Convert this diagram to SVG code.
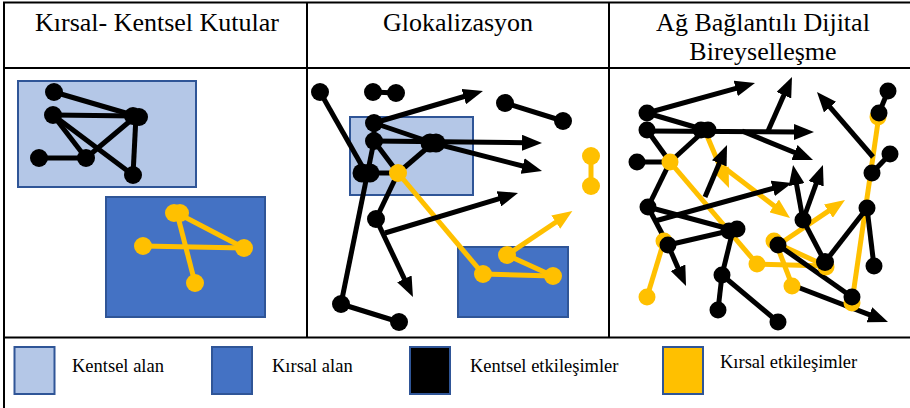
<svg xmlns="http://www.w3.org/2000/svg" width="910" height="408" viewBox="0 0 910 408">
<style>
.grid{stroke:#000;stroke-width:2;fill:none}
.hdr{font-size:26px;fill:#000;text-anchor:middle}
.lg{font-size:18.5px;fill:#000}
.urban{fill:#B4C7E7;stroke:#2F5597;stroke-width:2}
.rural{fill:#4472C4;stroke:#2F5597;stroke-width:2}
.eb{stroke:#000;stroke-width:5;fill:none}
.ey{stroke:#FFC000;stroke-width:5;fill:none}
.ab{stroke:#000;stroke-width:5;fill:none;marker-end:url(#hb)}
.ay{stroke:#FFC000;stroke-width:5;fill:none;marker-end:url(#hy)}
.nb{fill:#000}
.ny{fill:#FFC000}
</style>
<defs>
<marker id="hb" viewBox="0 0 20 16" refX="4" refY="8" markerWidth="20" markerHeight="16" markerUnits="userSpaceOnUse" orient="auto"><path d="M0,0 L20,8 L0,16 z" fill="#000"/></marker>
<marker id="hy" viewBox="0 0 20 16" refX="4" refY="8" markerWidth="20" markerHeight="16" markerUnits="userSpaceOnUse" orient="auto"><path d="M0,0 L20,8 L0,16 z" fill="#FFC000"/></marker>
</defs>
<rect width="910" height="408" fill="#fff"/>
<g id="table">
<line class="grid" x1="3" y1="2.5" x2="910" y2="2.5"/>
<line class="grid" x1="4" y1="2" x2="4" y2="408"/>
<line class="grid" x1="3" y1="68" x2="910" y2="68"/>
<line class="grid" x1="3" y1="337.5" x2="910" y2="337.5"/>
<line class="grid" x1="307" y1="2" x2="307" y2="338"/>
<line class="grid" x1="609" y1="2" x2="609" y2="338"/>
</g>
<g id="headers" font-family="'Liberation Serif', 'DejaVu Serif', serif">
<text class="hdr" x="157" y="31">Kırsal- Kentsel Kutular</text>
<text class="hdr" x="458" y="31">Glokalizasyon</text>
<text class="hdr" x="763" y="31">Ağ Bağlantılı Dijital</text>
<text class="hdr" x="763" y="60">Bireyselleşme</text>
</g>
<g id="areas">
<rect id="p1-urban" class="urban" x="18" y="81" width="178" height="106"/>
<rect id="p1-rural" class="rural" x="106" y="197" width="159" height="120"/>
<rect id="p2-urban" class="urban" x="350" y="117" width="123" height="78"/>
<rect id="p2-rural" class="rural" x="458" y="247" width="110" height="70"/>
</g>
<g id="connectors">
<line class="eb" x1="54" y1="92" x2="136" y2="116"/>
<line class="eb" x1="53" y1="115" x2="136" y2="116"/>
<line class="eb" x1="53" y1="115" x2="86" y2="158"/>
<line class="eb" x1="53" y1="115" x2="133" y2="175"/>
<line class="eb" x1="136" y1="116" x2="86" y2="158"/>
<line class="eb" x1="136" y1="116" x2="133" y2="175"/>
<line class="eb" x1="39" y1="158" x2="86" y2="158"/>
<line class="ey" x1="177" y1="213" x2="244" y2="248"/>
<line class="ey" x1="143" y1="246" x2="244" y2="248"/>
<line class="ey" x1="177" y1="213" x2="195" y2="283"/>
<line class="ey" x1="398" y1="173" x2="483" y2="274"/>
<line class="ey" x1="483" y1="274" x2="553" y2="276"/>
<line class="ey" x1="507" y1="255" x2="553" y2="276"/>
<line class="ey" x1="591" y1="156" x2="591" y2="186"/>
<line class="ay" x1="507" y1="255" x2="559.1" y2="220"/>
<line class="eb" x1="320" y1="92" x2="366" y2="173"/>
<line class="eb" x1="373" y1="92" x2="396" y2="93"/>
<line class="eb" x1="374" y1="123" x2="374" y2="141"/>
<line class="eb" x1="374" y1="123" x2="433" y2="143"/>
<line class="eb" x1="374" y1="141" x2="341" y2="304"/>
<line class="eb" x1="374" y1="141" x2="398" y2="173"/>
<line class="eb" x1="433" y1="143" x2="398" y2="173"/>
<line class="eb" x1="366" y1="173" x2="398" y2="173"/>
<line class="eb" x1="398" y1="173" x2="376" y2="219"/>
<line class="eb" x1="341" y1="304" x2="399" y2="322"/>
<line class="eb" x1="505" y1="103" x2="563" y2="121"/>
<line class="ab" x1="374" y1="123" x2="467.6" y2="95.5"/>
<line class="ab" x1="374" y1="141" x2="526" y2="142.8"/>
<line class="ab" x1="433" y1="143" x2="526.5" y2="167"/>
<line class="ab" x1="385" y1="233" x2="502.7" y2="197.6"/>
<line class="ab" x1="376" y1="219" x2="406.1" y2="282.5"/>
<line class="ey" x1="670" y1="162" x2="757" y2="264"/>
<line class="ey" x1="664" y1="241" x2="647" y2="297"/>
<line class="ey" x1="757" y1="264" x2="826" y2="266"/>
<line class="ey" x1="776" y1="243" x2="792" y2="285"/>
<line class="ey" x1="776" y1="243" x2="826" y2="266"/>
<line class="ey" x1="879" y1="115" x2="852" y2="302"/>
<line class="ay" x1="705" y1="131" x2="722.8" y2="173.2"/>
<line class="ay" x1="722" y1="166" x2="777.3" y2="208.3"/>
<line class="ay" x1="778" y1="245" x2="831.7" y2="208.9"/>
<line class="eb" x1="647" y1="113" x2="705" y2="130"/>
<line class="eb" x1="647" y1="130" x2="670" y2="162"/>
<line class="eb" x1="705" y1="130" x2="670" y2="162"/>
<line class="eb" x1="637" y1="162" x2="670" y2="162"/>
<line class="eb" x1="670" y1="162" x2="648" y2="207"/>
<line class="eb" x1="648" y1="207" x2="733" y2="230"/>
<line class="eb" x1="648" y1="207" x2="668" y2="245"/>
<line class="eb" x1="668" y1="245" x2="733" y2="230"/>
<line class="eb" x1="733" y1="230" x2="722" y2="275"/>
<line class="eb" x1="722" y1="275" x2="718" y2="310"/>
<line class="eb" x1="722" y1="275" x2="778" y2="322"/>
<line class="eb" x1="803" y1="220" x2="825" y2="262"/>
<line class="eb" x1="778" y1="245" x2="852" y2="297"/>
<line class="eb" x1="825" y1="262" x2="867" y2="208"/>
<line class="eb" x1="867" y1="208" x2="874" y2="266"/>
<line class="eb" x1="872" y1="173" x2="890" y2="154"/>
<line class="eb" x1="879" y1="113" x2="888" y2="91"/>
<line class="ab" x1="647" y1="113" x2="739.6" y2="87.3"/>
<line class="ab" x1="647" y1="131" x2="798" y2="132"/>
<line class="ab" x1="742" y1="131" x2="798.2" y2="154"/>
<line class="ab" x1="768" y1="131" x2="785.5" y2="91.6"/>
<line class="ab" x1="705" y1="197" x2="720.8" y2="159.7"/>
<line class="ab" x1="655" y1="221" x2="776.6" y2="187.3"/>
<line class="ab" x1="668" y1="245" x2="679.6" y2="271.4"/>
<line class="ab" x1="803" y1="220" x2="795.9" y2="180.7"/>
<line class="ab" x1="803" y1="220" x2="817.5" y2="180"/>
<line class="ab" x1="873" y1="157" x2="827.4" y2="104.1"/>
<line class="ab" x1="792" y1="285" x2="873.1" y2="316.2"/>
</g>
<g id="panel1-nodes">
<g id="p1-a"><circle class="nb" cx="54" cy="92" r="9"/></g>
<g id="p1-b"><circle class="nb" cx="53" cy="115" r="9"/></g>
<g id="p1-c"><circle class="nb" cx="133" cy="116" r="9"/><circle class="nb" cx="139" cy="117" r="9"/></g>
<g id="p1-d"><circle class="nb" cx="39" cy="158" r="9"/></g>
<g id="p1-e"><circle class="nb" cx="86" cy="158" r="9"/></g>
<g id="p1-f"><circle class="nb" cx="133" cy="175" r="9"/></g>
<g id="p1-g"><circle class="ny" cx="174" cy="213" r="9"/><circle class="ny" cx="180" cy="213" r="9"/></g>
<g id="p1-h"><circle class="ny" cx="143" cy="246" r="9"/></g>
<g id="p1-i"><circle class="ny" cx="244" cy="248" r="9"/></g>
<g id="p1-j"><circle class="ny" cx="195" cy="283" r="9"/></g>
</g>
<g id="panel2-nodes">
<g id="p2-y1"><circle class="ny" cx="398" cy="173" r="9"/></g>
<g id="p2-y2"><circle class="ny" cx="483" cy="274" r="9"/></g>
<g id="p2-y3"><circle class="ny" cx="507" cy="255" r="9"/></g>
<g id="p2-y4"><circle class="ny" cx="553" cy="276" r="9"/></g>
<g id="p2-y5"><circle class="ny" cx="591" cy="156" r="9"/></g>
<g id="p2-y6"><circle class="ny" cx="591" cy="186" r="9"/></g>
<g id="p2-n1"><circle class="nb" cx="320" cy="92" r="9"/></g>
<g id="p2-n2a"><circle class="nb" cx="373" cy="92" r="9"/></g>
<g id="p2-n2b"><circle class="nb" cx="396" cy="93" r="9"/></g>
<g id="p2-n3"><circle class="nb" cx="374" cy="123" r="9"/></g>
<g id="p2-n4"><circle class="nb" cx="374" cy="141" r="9"/></g>
<g id="p2-n5"><circle class="nb" cx="430" cy="143" r="9.5"/><circle class="nb" cx="436" cy="143" r="9.5"/></g>
<g id="p2-n6"><circle class="nb" cx="362" cy="173" r="9.5"/><circle class="nb" cx="370" cy="173" r="9.5"/></g>
<g id="p2-n7"><circle class="nb" cx="376" cy="219" r="9"/></g>
<g id="p2-n8"><circle class="nb" cx="341" cy="304" r="9"/></g>
<g id="p2-n9"><circle class="nb" cx="399" cy="322" r="9"/></g>
<g id="p2-n10"><circle class="nb" cx="505" cy="103" r="9"/></g>
<g id="p2-n11"><circle class="nb" cx="563" cy="121" r="9"/></g>
</g>
<g id="panel3-nodes">
<g id="p3-q1"><circle class="ny" cx="670" cy="162" r="8.5"/></g>
<g id="p3-q2"><circle class="ny" cx="647" cy="297" r="8.5"/></g>
<g id="p3-q3"><circle class="ny" cx="757" cy="264" r="8.5"/></g>
<g id="p3-q4"><circle class="ny" cx="792" cy="286" r="8.5"/></g>
<g id="p3-q5"><circle class="ny" cx="774" cy="241" r="8.5"/></g>
<g id="p3-q6"><circle class="ny" cx="852" cy="303" r="8.5"/></g>
<g id="p3-q7"><circle class="ny" cx="664" cy="241" r="8.5"/></g>
<g id="p3-q8"><circle class="ny" cx="878" cy="117" r="8.5"/></g>
<g id="p3-q9"><circle class="ny" cx="826" cy="267" r="8.5"/></g>
<g id="p3-p1"><circle class="nb" cx="647" cy="113" r="8.5"/></g>
<g id="p3-p2"><circle class="nb" cx="647" cy="130" r="8.5"/></g>
<g id="p3-p3"><circle class="nb" cx="701" cy="130" r="8.5"/><circle class="nb" cx="708" cy="130" r="8.5"/></g>
<g id="p3-p4"><circle class="nb" cx="637" cy="162" r="8.5"/></g>
<g id="p3-p5"><circle class="nb" cx="648" cy="207" r="8.5"/></g>
<g id="p3-p6"><circle class="nb" cx="729" cy="231" r="8.5"/><circle class="nb" cx="737" cy="229" r="8.5"/></g>
<g id="p3-p7"><circle class="nb" cx="668" cy="245" r="8.5"/></g>
<g id="p3-p8"><circle class="nb" cx="722" cy="275" r="8.5"/></g>
<g id="p3-p9"><circle class="nb" cx="718" cy="310" r="8.5"/></g>
<g id="p3-p10"><circle class="nb" cx="778" cy="322" r="8.5"/></g>
<g id="p3-p11"><circle class="nb" cx="803" cy="220" r="8.5"/></g>
<g id="p3-p12"><circle class="nb" cx="778" cy="245" r="8.5"/></g>
<g id="p3-p13"><circle class="nb" cx="825" cy="262" r="9"/></g>
<g id="p3-p14"><circle class="nb" cx="852" cy="297" r="8.5"/></g>
<g id="p3-p15"><circle class="nb" cx="874" cy="266" r="8.5"/></g>
<g id="p3-p16"><circle class="nb" cx="867" cy="208" r="8.5"/></g>
<g id="p3-p17"><circle class="nb" cx="872" cy="173" r="8.5"/></g>
<g id="p3-p18"><circle class="nb" cx="890" cy="154" r="8.5"/></g>
<g id="p3-p19"><circle class="nb" cx="879" cy="113" r="8.5"/></g>
<g id="p3-p20"><circle class="nb" cx="888" cy="91" r="8.5"/></g>
</g>
<g id="legend" font-family="'Liberation Serif', 'DejaVu Serif', serif">
<g id="lg-urban"><rect class="urban" x="14.5" y="347" width="40" height="47"/><text class="lg" x="72" y="372">Kentsel alan</text></g>
<g id="lg-rural"><rect class="rural" x="212" y="347" width="40" height="47"/><text class="lg" x="272" y="372">Kırsal alan</text></g>
<g id="lg-urbanint"><rect x="410" y="347" width="40" height="47" fill="#000" stroke="#2F5597" stroke-width="2"/><text class="lg" x="470" y="372">Kentsel etkileşimler</text></g>
<g id="lg-ruralint"><rect x="663" y="347" width="40" height="47" fill="#FFC000" stroke="#2F5597" stroke-width="2"/><text class="lg" x="720" y="368">Kırsal etkileşimler</text></g>
</g>
</svg>
